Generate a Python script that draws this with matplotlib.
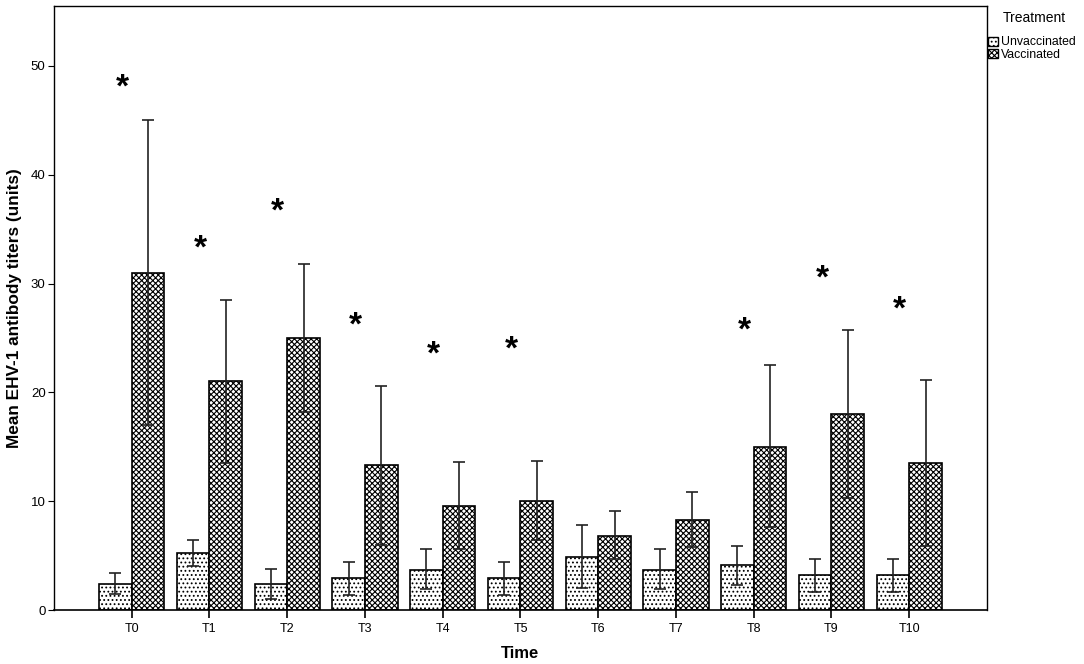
import matplotlib
matplotlib.use("Agg")
import matplotlib.pyplot as plt
import numpy as np
from matplotlib.patches import Patch

plt.rcParams['font.family'] = ['Liberation Sans', 'DejaVu Sans']
plt.rcParams['hatch.linewidth'] = 0.8

times = ["T0", "T1", "T2", "T3", "T4", "T5", "T6", "T7", "T8", "T9", "T10"]
unvacc_mean = [2.4, 5.2, 2.4, 2.9, 3.7, 2.9, 4.9, 3.7, 4.1, 3.2, 3.2]
unvacc_low = [1.5, 4.0, 1.0, 1.4, 1.9, 1.4, 2.0, 1.9, 2.3, 1.7, 1.7]
unvacc_high = [3.4, 6.4, 3.8, 4.4, 5.6, 4.4, 7.8, 5.6, 5.9, 4.7, 4.7]
vacc_mean = [31.0, 21.0, 25.0, 13.3, 9.6, 10.0, 6.8, 8.3, 15.0, 18.0, 13.5]
vacc_low = [17.0, 13.5, 18.2, 6.0, 5.6, 6.4, 4.7, 5.8, 7.6, 10.3, 5.9]
vacc_high = [45.0, 28.5, 31.8, 20.6, 13.6, 13.7, 9.1, 10.8, 22.5, 25.7, 21.1]
star_idx = [0, 1, 2, 3, 4, 5, 8, 9, 10]
star_y = [48.0, 33.2, 36.6, 26.1, 23.4, 23.9, 25.6, 30.4, 27.6]

fig = plt.figure(figsize=(10.84, 6.64), dpi=100)
ax = fig.add_axes([0.0498, 0.0813, 0.8607, 0.9097])

x = np.arange(len(times))
w = 0.42
um = np.array(unvacc_mean); vm = np.array(vacc_mean)
ax.bar(x - w/2, um, w, facecolor='white', edgecolor='black', hatch='....', linewidth=1.2, zorder=2)
ax.bar(x + w/2, vm, w, facecolor='white', edgecolor='black', hatch='xxxxxx', linewidth=1.2, zorder=2)

uerr = [um - np.array(unvacc_low), np.array(unvacc_high) - um]
verr = [vm - np.array(vacc_low), np.array(vacc_high) - vm]
ax.errorbar(x - w/2, um, yerr=uerr, fmt='none', ecolor='#222222', elinewidth=1.2, capsize=4, capthick=1.2, zorder=3)
ax.errorbar(x + w/2, vm, yerr=verr, fmt='none', ecolor='#222222', elinewidth=1.2, capsize=4, capthick=1.2, zorder=3)

for i, yv in zip(star_idx, star_y):
    ax.text(i - 0.12, yv, "*", ha='center', va='center', fontsize=24, fontweight='bold')

ax.set_xlim(-1, 11)
ax.set_ylim(0, 55.5)
ax.set_xticks(x)
ax.set_xticklabels(times, fontsize=9)
ax.set_yticks([0, 10, 20, 30, 40, 50])
ax.tick_params(axis='y', labelsize=9.5, length=4, direction='out', pad=2)
ax.tick_params(axis='x', length=6, direction='out', width=1.2, pad=3)
for s in ax.spines.values():
    s.set_linewidth(1.0)
ax.spines['bottom'].set_linewidth(1.2)

ax.set_ylabel("Mean EHV-1 antibody titers (units)", fontsize=12.4, fontweight='bold', labelpad=6)
ax.set_xlabel("Time", fontsize=12, fontweight='bold', labelpad=8)

fig.text(1003 / 1084, 1 - 18 / 664, "Treatment", ha='left', va='center', fontsize=10)
handles = [Patch(facecolor='white', edgecolor='black', hatch='....', label='Unvaccinated'),
           Patch(facecolor='white', edgecolor='black', hatch='xxxxxx', label='Vaccinated')]
leg = fig.legend(handles=handles, loc='upper left', bbox_to_anchor=(986 / 1084, 1 - 34 / 664),
                 frameon=False, fontsize=8.8, handlelength=0.8, handleheight=0.8,
                 handletextpad=0.2, labelspacing=0.05, borderpad=0.2, borderaxespad=0)

fig.savefig("out.png", dpi=100)
